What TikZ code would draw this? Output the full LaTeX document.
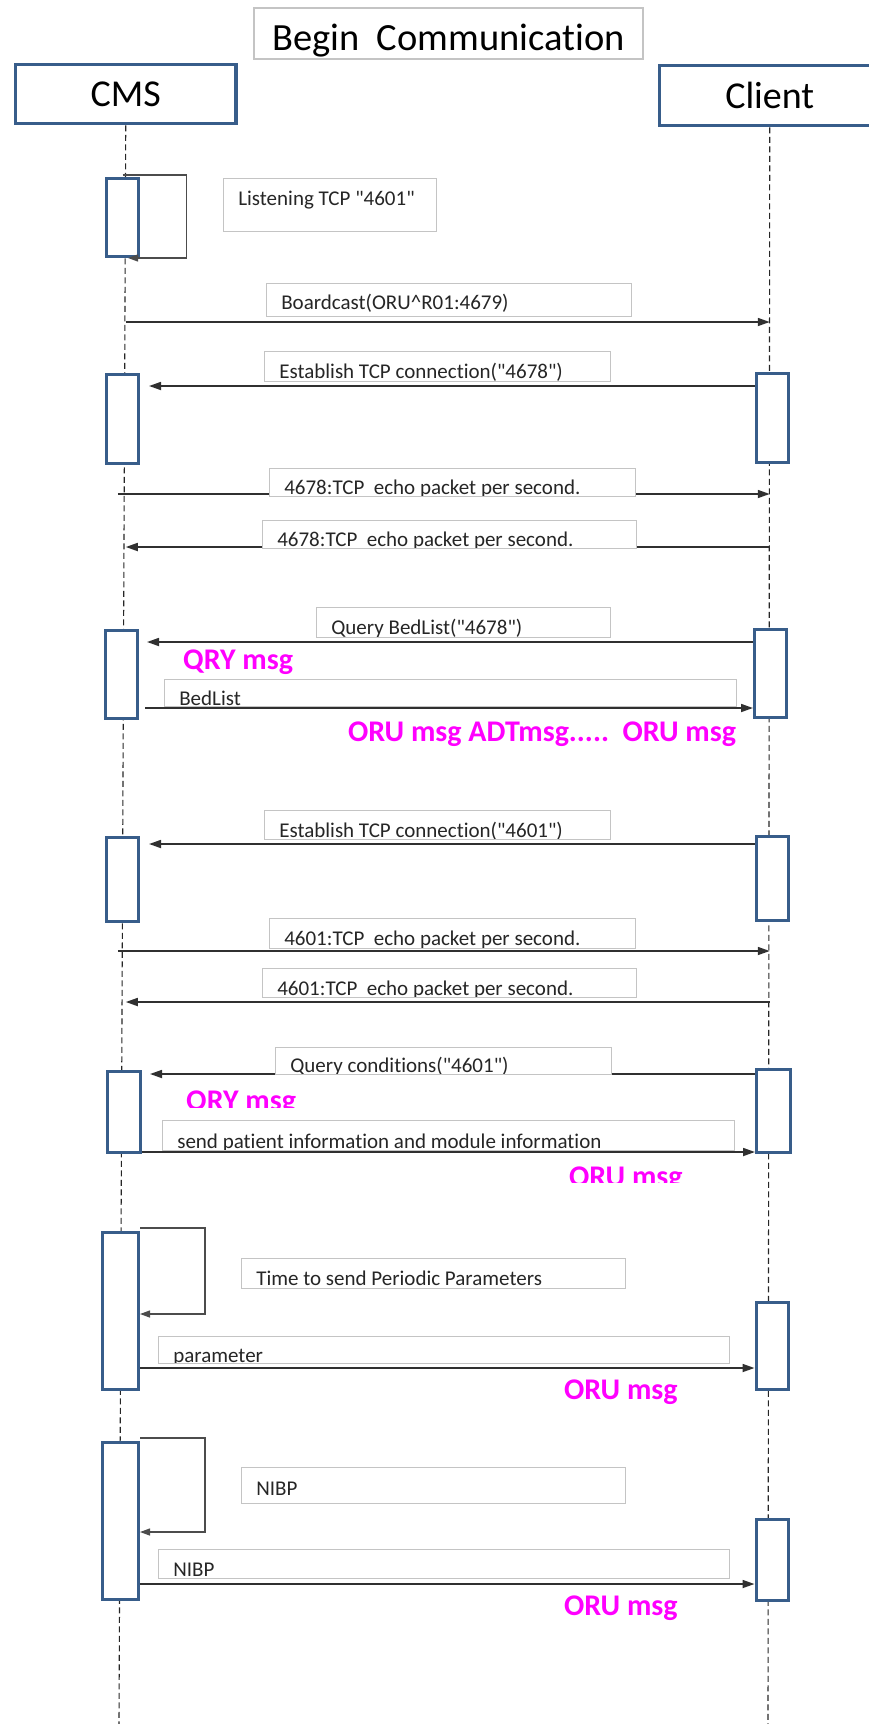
\documentclass[tikz,border=0pt]{standalone}
\usepackage{fontspec}
\setmainfont{Carlito}[Ligatures={TeXOff,NoCommon}]
\usetikzlibrary{arrows.meta}

\definecolor{actblue}{HTML}{385D8A}
\definecolor{boxgray}{HTML}{C4C4C4}
\definecolor{msgline}{HTML}{303030}
\definecolor{msgmagenta}{RGB}{255,0,255}
\newcommand\msgfont{\fontsize{21}{24}\selectfont}

\begin{document}
\begin{tikzpicture}[x=1pt, y=-1pt,
	head/.style={draw=actblue, line width=3.5pt, fill=white, inner sep=0, minimum width=220.5pt, anchor=north west, font=\fontsize{38}{40}\selectfont},
	act/.style={draw=actblue, line width=3pt, fill=white, inner sep=0, minimum width=32pt},
	lifeline/.style={dash pattern=on 6pt off 3.5pt, line width=1.1pt, black!85},
	msg/.style={-{Triangle[length=12pt, width=8pt]}, line width=1.7pt, msgline},
	selfmsg/.style={-{Triangle[length=10pt, width=7pt]}, line width=1.2pt, black!70},
	msgbox/.style={draw=boxgray, line width=1.3pt, fill=white, inner sep=0, anchor=north west},
	boxtext/.style 2 args={path picture={\node[anchor=base west, inner sep=0, minimum width=0pt, minimum height=0pt, font=\msgfont, black!85] at ([shift={(14pt,#1)}]path picture bounding box.south west) {#2};}},
	note/.style={text=msgmagenta, inner sep=0, anchor=base west, font=\bfseries\fontsize{30}{32}\selectfont}]
	\useasboundingbox (0,0) rectangle (869,1724);

	% title and the two parties
	\node[draw=boxgray, line width=1.8pt, inner sep=0, minimum width=389pt, text height=43pt, text depth=8pt, anchor=north west, font=\fontsize{38.5}{40}\selectfont] (title) at (253,7) {Begin\ \ Communication};
	\node[head, text height=42pt, text depth=17pt] (cms)    at (13.75,62.75) {CMS};
	\node[head, text height=43pt, text depth=17pt] (client) at (657.75,63.75) {Client};

	\coordinate (cmsend)    at (119,1724);
	\coordinate (clientend) at (768,1724);
	\draw[lifeline] (cms.south) -- (cmsend);
	\draw[lifeline] (client.south) -- (clientend);

	% activations
	\node[act, minimum height=78pt]                     (a1)  at (122.5,217.5) {};
	\node[act, minimum height=89pt]                     (a2L) at (122.5,419) {};
	\node[act, minimum height=89pt]                     (a2R) at (772,418) {};
	\node[act, minimum height=88pt]                     (a3L) at (121.5,674.5) {};
	\node[act, minimum height=88pt]                     (a3R) at (770.5,673.5) {};
	\node[act, minimum height=84pt]                     (a4L) at (122.5,879.5) {};
	\node[act, minimum height=84pt]                     (a4R) at (772,878.5) {};
	\node[act, minimum height=81pt, minimum width=33pt] (a5L) at (124,1112) {};
	\node[act, minimum height=83pt, minimum width=34pt] (a5R) at (773.5,1111) {};
	\node[act, minimum height=157pt, minimum width=36pt] (a6L) at (120.5,1311) {};
	\node[act, minimum height=87pt]                     (a6R) at (772,1346) {};
	\node[act, minimum height=157pt, minimum width=36pt] (a7L) at (120.5,1521) {};
	\node[act, minimum height=81pt]                     (a7R) at (772,1560) {};

	% messages
	\path[msg]
		(cms.south |- 0,322)              edge (client.south |- 0,322)
		(a2R.west |- 0,386)               edge[shorten >=9pt] (a2L.east |- 0,386)
		([xshift=-8pt]cms.south |- 0,494) edge (client.south |- 0,494)
		(client.south |- 0,547)           edge (cms.south |- 0,547)
		(a3R.west |- 0,642)               edge[shorten >=8pt] (a3L.east |- 0,642)
		(a3L.east |- 0,708)               edge[shorten <=6pt] (a3R.west |- 0,708)
		(a4R.west |- 0,844)               edge[shorten >=9pt] (a4L.east |- 0,844)
		([xshift=-8pt]cms.south |- 0,951) edge (client.south |- 0,951)
		(client.south |- 0,1002)          edge (cms.south |- 0,1002)
		(a5R.west |- 0,1074)              edge[shorten >=8pt] (a5L.east |- 0,1074)
		(a5L.east |- 0,1152)              edge (a5R.west |- 0,1152)
		(a6L.east |- 0,1368)              edge (a6R.west |- 0,1368)
		(a7L.east |- 0,1584)              edge (a7R.west |- 0,1584);

	% message labels
	\node[msgbox, minimum width=213pt, minimum height=53pt, boxtext={26pt}{Listening TCP "4601"}]                               (b1)  at (223,178) {};
	\node[msgbox, minimum width=365pt, minimum height=33pt, boxtext={7pt}{Boardcast(ORU\textasciicircum R01:4679)}]              (b2)  at (266,283) {};
	\node[msgbox, minimum width=346pt, minimum height=30pt, boxtext={3pt}{Establish TCP connection("4678")}]                    (b3)  at (264,351) {};
	\node[msgbox, minimum width=366pt, minimum height=28pt, boxtext={2pt}{4678:TCP\ \ echo packet per second.}]                 (b4)  at (269,468) {};
	\node[msgbox, minimum width=374pt, minimum height=28pt, boxtext={2pt}{4678:TCP\ \ echo packet per second.}]                 (b5)  at (262,520) {};
	\node[msgbox, minimum width=294pt, minimum height=30pt, boxtext={3pt}{Query BedList("4678")}]                               (b6)  at (316,607) {};
	\node[msgbox, minimum width=572pt, minimum height=27pt, boxtext={1.5pt}{BedList}]                                           (b7)  at (164,679) {};
	\node[msgbox, minimum width=346pt, minimum height=29pt, boxtext={2.5pt}{Establish TCP connection("4601")}]                  (b8)  at (264,810) {};
	\node[msgbox, minimum width=366pt, minimum height=30pt, boxtext={3pt}{4601:TCP\ \ echo packet per second.}]                 (b9)  at (269,918) {};
	\node[msgbox, minimum width=374pt, minimum height=29pt, boxtext={2pt}{4601:TCP\ \ echo packet per second.}]                 (b10) at (262,968) {};
	\node[msgbox, minimum width=336pt, minimum height=27pt, boxtext={2pt}{Query conditions("4601")}]                            (b11) at (275,1047) {};
	\node[msgbox, minimum width=572pt, minimum height=30pt, boxtext={2.5pt}{send patient information and module information}]   (b12) at (162,1120) {};
	\node[msgbox, minimum width=384pt, minimum height=30pt, boxtext={3pt}{Time to send Periodic Parameters}]                    (b13) at (241,1258) {};
	\node[msgbox, minimum width=571pt, minimum height=27pt, boxtext={1.5pt}{parameter}]                                         (b14) at (158,1336) {};
	\node[msgbox, minimum width=384pt, minimum height=36pt, boxtext={8pt}{NIBP}]                                                (b15) at (241,1467) {};
	\node[msgbox, minimum width=571pt, minimum height=29pt, boxtext={2.5pt}{NIBP}]                                              (b16) at (158,1549) {};

	% self calls
	\draw[selfmsg] ([yshift=2pt]a1.north) -- ++(64,0) |- ([xshift=-12pt]a1.south east);
	\draw[selfmsg] ([yshift=3pt]a6L.north east) -- ++(65,0) |- (a6L.east |- 0,1314);
	\draw[selfmsg] ([yshift=3pt]a7L.north east) -- ++(65,0) |- (a7L.east |- 0,1532);

	% message types
	\node[note] (qry1) at (183,669) {QRY msg};
	\node[note] (oru1) at (348,741) {ORU msg ADTmsg.....\ \ ORU msg};
	\begin{scope}
		\clip (150,1080) rectangle (420,1107);
		\node[note] (qry2) at (186,1110.3) {QRY msg};
	\end{scope}
	\begin{scope}
		\clip (540,1155) rectangle (740,1182);
		\node[note] (oru2) at (569,1186.3) {ORU msg};
	\end{scope}
	\node[note] (oru3) at (564,1399) {ORU msg};
	\node[note] (oru4) at (564,1615) {ORU msg};
\end{tikzpicture}
\end{document}
